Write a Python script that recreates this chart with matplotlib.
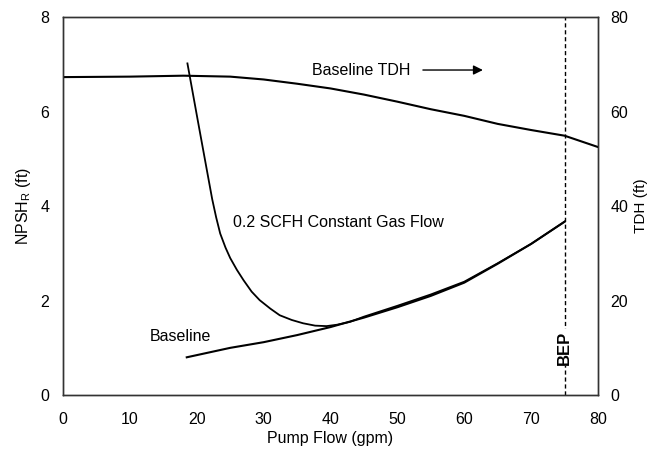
import numpy as np
import matplotlib.pyplot as plt

plt.rcParams['font.family'] = ['Liberation Sans', 'DejaVu Sans']
plt.rcParams['font.size'] = 11.5

# pump flow (gpm) vs TDH (ft), right axis
tdh_flow = [0, 10, 18, 25, 30, 35, 40, 45, 50, 55, 60, 65, 70, 75, 80]
tdh_vals = [67.3, 67.4, 67.6, 67.4, 66.8, 65.9, 64.9, 63.6, 62.1, 60.5, 59.1, 57.4, 56.1, 54.9, 52.5]

# baseline NPSHr
base_flow = [18.5, 25, 30, 35, 40, 45, 50, 55, 60, 65, 70, 75]
base_npsh = [0.80, 1.00, 1.12, 1.27, 1.44, 1.64, 1.86, 2.10, 2.38, 2.78, 3.20, 3.67]

# 0.2 SCFH constant gas flow NPSHr
gas_flow = [18.6, 20.1, 21.6, 22.3, 22.9, 23.5, 24.3, 25.0, 26.0, 27.0, 28.2, 29.4,
            31.0, 32.4, 34.2, 35.9, 37.7, 39.4, 41.0, 42.9, 45, 50, 55, 60, 65, 70, 75]
gas_npsh = [7.02, 5.85, 4.69, 4.15, 3.76, 3.42, 3.12, 2.90, 2.65, 2.43, 2.19, 2.01,
            1.83, 1.69, 1.59, 1.52, 1.47, 1.46, 1.49, 1.55, 1.66, 1.89, 2.13, 2.40,
            2.79, 3.20, 3.67]

bep = 75

fig = plt.figure(figsize=(6.5, 4.5), dpi=100)
ax = fig.add_axes([0.097, 0.122, 0.823, 0.84])
ax2 = ax.twinx()

ax.plot(base_flow, base_npsh, color='black', lw=1.5)
ax.plot(gas_flow, gas_npsh, color='black', lw=1.3)
ax2.plot(tdh_flow, tdh_vals, color='black', lw=1.5)
ax.plot([bep, bep], [0, 8], color='black', lw=1, ls=(0, (3, 2)))

ax.set_xlim(0, 80)
ax.set_ylim(0, 8)
ax2.set_ylim(0, 80)
ax.set_xticks(np.arange(0, 81, 10))
ax.set_yticks([0, 2, 4, 6, 8])
ax2.set_yticks([0, 20, 40, 60, 80])
ax.tick_params(axis='x', length=0, pad=12)
ax.tick_params(axis='y', length=0, pad=10)
ax2.tick_params(length=0, pad=9)

ax.set_xlabel('Pump Flow (gpm)', labelpad=3)
ax.set_ylabel('NPSH$_\\mathregular{R}$ (ft)', labelpad=5)
ax2.set_ylabel('TDH (ft)', labelpad=4, fontsize=11)

ax.text(37.2, 6.88, 'Baseline TDH', va='center', ha='left', fontsize=11.5)
ax.annotate('', xy=(63.2, 6.88), xytext=(53.4, 6.88),
            arrowprops=dict(arrowstyle='-|>', color='black', lw=1, mutation_scale=14))
ax.text(25.4, 3.66, '0.2 SCFH Constant Gas Flow', va='center', ha='left', fontsize=11.5)
ax.text(13.0, 1.25, 'Baseline', va='center', ha='left', fontsize=11.5)
ax.text(bep, 1.0, 'BEP', rotation=90, va='center', ha='center', fontweight='bold',
        fontsize=12, bbox=dict(facecolor='white', edgecolor='none', pad=1))

for a in (ax, ax2):
    for s in a.spines.values():
        s.set_linewidth(1)
        s.set_color('#333333')

fig.savefig('out.png', dpi=100)
